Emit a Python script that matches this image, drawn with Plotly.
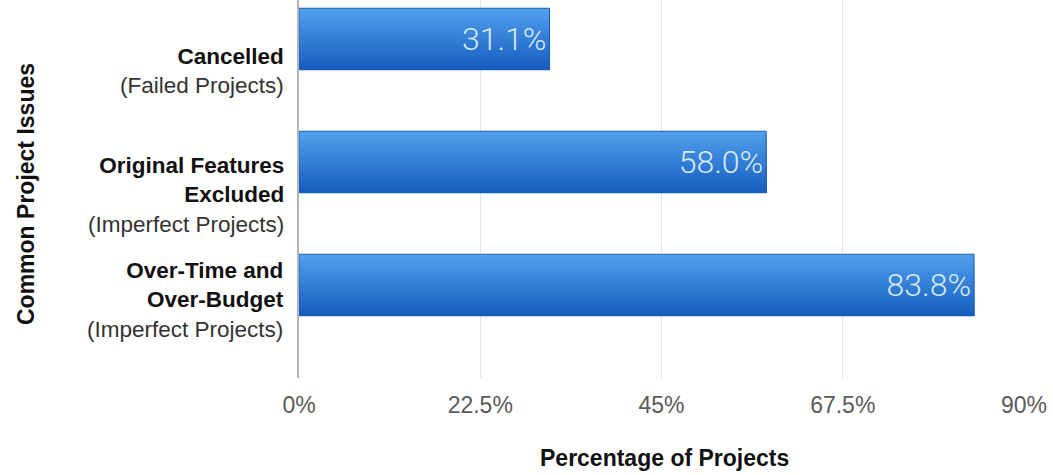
import plotly.graph_objects as go

categories = ["Cancelled", "Original Features Excluded", "Over-Time and Over-Budget"]
label_main = ["Cancelled", "Original Features<br>Excluded", "Over-Time and<br>Over-Budget"]
label_sub = ["(Failed Projects)", "(Imperfect Projects)", "(Imperfect Projects)"]
values = [31.1, 58.0, 83.8]
tick_vals = [0, 22.5, 45, 67.5, 90]
tick_text = ["0%", "22.5%", "45%", "67.5%", "90%"]

x_title = "Percentage of Projects"
y_title = "Common Project Issues"

W, H = 1053, 475
ML, MR, MT, MB = 299, 29, 0, 97
plot_w = W - ML - MR
plot_h = H - MT - MB

fig = go.Figure()

# gradient strips for bars (each strip runs to the bar bottom, stacked so no gaps)
top_rgb = (80, 158, 236)
bot_rgb = (24, 94, 192)
n = 16
bw = 0.5
for i in range(n):
    t = i / (n - 1)
    c = tuple(int(round(top_rgb[k] + (bot_rgb[k] - top_rgb[k]) * t)) for k in range(3))
    fig.add_trace(go.Bar(
        y=categories, x=values, orientation="h",
        width=bw - i * bw / n, offset=-bw / 2 + i * bw / n,
        marker=dict(color="rgb(%d,%d,%d)" % c, line=dict(width=0)),
        hoverinfo="skip", showlegend=False,
    ))

fig.add_trace(go.Bar(
    y=categories, x=values, orientation="h",
    width=bw, offset=-bw / 2,
    marker=dict(color="rgba(0,0,0,0)", line=dict(color="#1a5cb8", width=1)),
    texttemplate="%{x:.1f}%", textposition="inside", insidetextanchor="end",
    textfont=dict(size=32, color="#d4e9ff", family="Roboto", weight=300),
    showlegend=False,
))

fig.update_layout(
    width=W, height=H,
    margin=dict(l=ML, r=MR, t=MT, b=MB),
    barmode="overlay",
    plot_bgcolor="white", paper_bgcolor="white",
    font=dict(family="Liberation Sans, Arial, sans-serif"),
    xaxis=dict(
        range=[0, 90], tickvals=tick_vals, ticktext=tick_text,
        showgrid=True, gridcolor="#e4e4e4", gridwidth=1,
        zeroline=False, showline=False, ticks="",
        tickfont=dict(size=23, color="#5a5a5a"),
        ticklabelstandoff=11,
    ),
    yaxis=dict(
        type="category", categoryorder="array", categoryarray=categories,
        range=[2.756, -0.317],
        showticklabels=False, showgrid=False, zeroline=False,
        showline=True, linecolor="#b4b4b4", linewidth=2, ticks="",
    ),
)

shifts = [-32, -33, -15]
for cat, m, s, ys in zip(categories, label_main, label_sub, shifts):
    fig.add_annotation(
        xref="paper", x=0, yref="y", y=cat,
        xanchor="right", yanchor="middle", xshift=-13, yshift=ys,
        align="right", showarrow=False,
        text="<b>%s</b><br><span style='color:#333333'>%s</span>" % (m, s),
        font=dict(size=22.5, color="#111111", family="Liberation Sans, Arial, sans-serif"),
    )

fig.add_annotation(
    xref="paper", yref="paper", x=(26 - ML) / plot_w, y=(plot_h - 194) / plot_h,
    xanchor="center", yanchor="middle", textangle=-90, showarrow=False,
    text="<b>%s</b>" % y_title,
    font=dict(size=23, color="#111111"),
)
fig.add_annotation(
    xref="paper", yref="paper", x=(664 - ML) / plot_w, y=(plot_h - 458) / plot_h,
    xanchor="center", yanchor="middle", showarrow=False,
    text="<b>%s</b>" % x_title,
    font=dict(size=23, color="#111111"),
)

fig.write_html("out.html", config={"displayModeBar": False},
               post_script="document.body.style.margin='0';document.body.style.padding='0';")
